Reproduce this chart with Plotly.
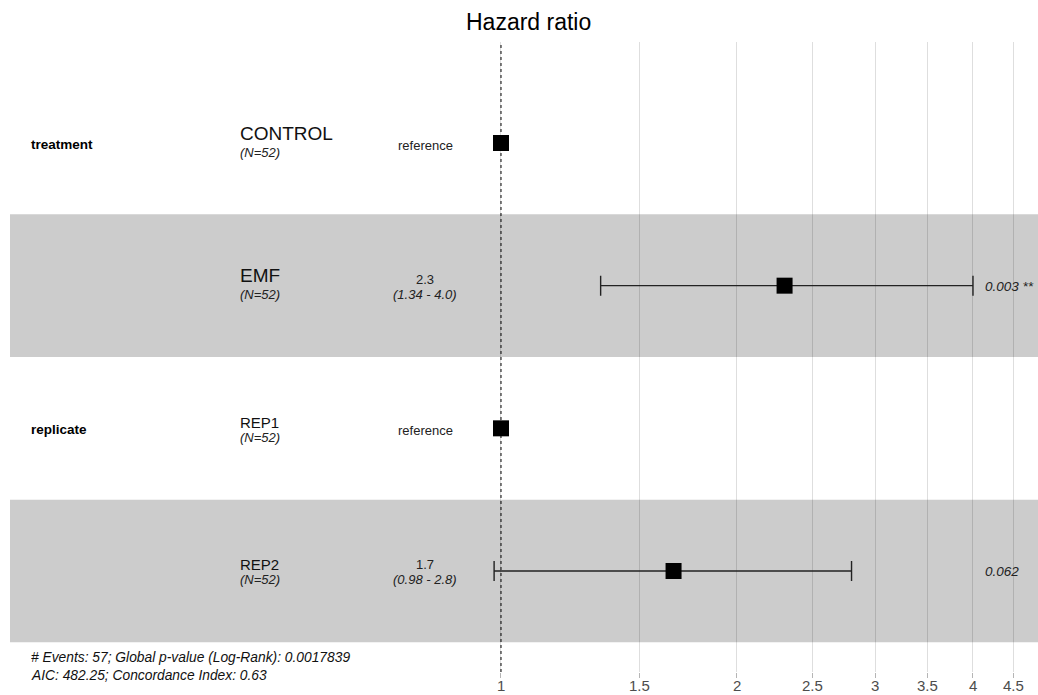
import math
import plotly.graph_objects as go

# Cox model summary rows
variables = ["treatment", "", "replicate", ""]
levels = ["CONTROL", "EMF", "REP1", "REP2"]
level_sizes = [19, 19, 15, 15]
n_obs = [52, 52, 52, 52]
hazard = [1.0, 2.3, 1.0, 1.66]
ci_low = [None, 1.34, None, 0.98]
ci_high = [None, 4.0, None, 2.8]
p_values = [None, "0.003", None, "0.062"]
stars = ["", " **", "", ""]
is_reference = [True, False, True, False]

tick_vals = [1, 1.5, 2, 2.5, 3, 3.5, 4, 4.5]
tick_text = ["1", "1.5", "2", "2.5", "3", "3.5", "4", "4.5"]

footer_lines = [
    "# Events: 57; Global p-value (Log-Rank): 0.0017839",
    "AIC: 482.25; Concordance Index: 0.63",
]

W, H = 1038, 695
ML, MR, MT, MB = 10, 0, 42, 23
PW, PH = W - ML - MR, H - MT - MB

FONT = "Liberation Sans, Arial, sans-serif"
rows = list(range(1, len(levels) + 1))
y_top, y_bot = 0.292, 4.708
X_RANGE = [-0.6263, 0.6850]  # log10 units


def px(x):
    return (x - ML) / PW


def py(y):
    return (H - MB - y) / PH


def row_px(r):
    return MT + (r - y_top) / (y_bot - y_top) * PH


fig = go.Figure()

# reference levels: squares only
ref_rows = [r for r, ref in zip(rows, is_reference) if ref]
fig.add_trace(go.Scatter(
    x=[hazard[r - 1] for r in ref_rows], y=ref_rows, mode="markers",
    marker=dict(symbol="square", size=16, color="black"),
    hoverinfo="skip", showlegend=False,
))

# estimated levels: squares with confidence intervals
est_rows = [r for r, ref in zip(rows, is_reference) if not ref]
fig.add_trace(go.Scatter(
    x=[hazard[r - 1] for r in est_rows], y=est_rows, mode="markers",
    marker=dict(symbol="square", size=16, color="black"),
    error_x=dict(
        type="data", symmetric=False,
        array=[ci_high[r - 1] - hazard[r - 1] for r in est_rows],
        arrayminus=[hazard[r - 1] - ci_low[r - 1] for r in est_rows],
        color="#222222", thickness=1.4, width=10,
    ),
    hoverinfo="skip", showlegend=False,
))

shapes = []
# alternating row shading
for r in rows:
    if r % 2 == 0:
        shapes.append(dict(type="rect", xref="paper", yref="y", x0=0, x1=1,
                           y0=r - 0.5, y1=r + 0.5, fillcolor="#cccccc",
                           line=dict(width=0), layer="below"))
# null-effect line
shapes.append(dict(type="line", xref="x", yref="paper", x0=1, x1=1, y0=0, y1=1,
                   line=dict(color="black", width=1, dash="dot"), layer="above"))

ann = []


def text(x, y, s, size=13, anchor="left", italic=False, bold=False, color="black",
         width=None):
    if italic:
        s = "<i>" + s + "</i>"
    if bold:
        s = "<b>" + s + "</b>"
    a = dict(x=px(x), y=py(y), xref="paper", yref="paper", text=s,
             showarrow=False, xanchor=anchor, align=anchor, yanchor="middle",
             borderpad=0, font=dict(family=FONT, size=size, color=color))
    if width:
        a["width"] = width
    ann.append(a)


for i, r in enumerate(rows):
    yc = row_px(r)
    if variables[i]:
        text(30, yc + 1, variables[i], size=13.5, bold=True)
    name_off = -10 if level_sizes[i] > 16 else -6
    text(239, yc + name_off, levels[i], size=level_sizes[i], color="#111111", width=120)
    text(239, yc + 9, f"(N={n_obs[i]})", size=13, italic=True, color="#222222", width=120)
    if is_reference[i]:
        text(425, yc + 2, "reference", size=13, anchor="center", color="#222222")
    else:
        text(425, yc - 6, f"{hazard[i]:.1f}", size=13, anchor="center", color="#222222")
        text(425, yc + 9, f"({ci_low[i]:.2f} - {ci_high[i]:.1f})", size=13,
             anchor="center", italic=True, color="#222222")
        text(984, yc + 1, p_values[i] + stars[i], size=13.5, italic=True,
             color="#222222", width=60)

text(30, 657, footer_lines[0], size=13.8, italic=True, color="#111111", width=400)
text(30, 675, footer_lines[1], size=13.8, italic=True, color="#111111", width=400)
text(528, 22, "Hazard ratio", size=23, anchor="center", color="black")

# x tick labels placed just under the tick marks (annotation x is log10 on a log axis)
for v, t in zip(tick_vals, tick_text):
    ann.append(dict(x=math.log10(v), y=py(685), xref="x", yref="paper", text=t,
                    showarrow=False, xanchor="center", yanchor="middle", borderpad=0,
                    font=dict(family=FONT, size=15, color="#4d4d4d")))

fig.update_layout(
    width=W, height=H,
    margin=dict(l=ML, r=MR, t=MT, b=MB, autoexpand=False),
    paper_bgcolor="white", plot_bgcolor="white",
    shapes=shapes, annotations=ann,
    xaxis=dict(
        type="log", range=X_RANGE,
        tickvals=tick_vals, showticklabels=False,
        showgrid=True, gridcolor="rgba(0,0,0,0.13)", gridwidth=1,
        zeroline=False, showline=False, automargin=False,
        ticks="outside", ticklen=5, tickcolor="#b5b5b5", tickwidth=1,
        fixedrange=True,
    ),
    yaxis=dict(range=[y_bot, y_top], visible=False, showgrid=False,
               zeroline=False, fixedrange=True, automargin=False),
)

fig.write_html("out.html")
